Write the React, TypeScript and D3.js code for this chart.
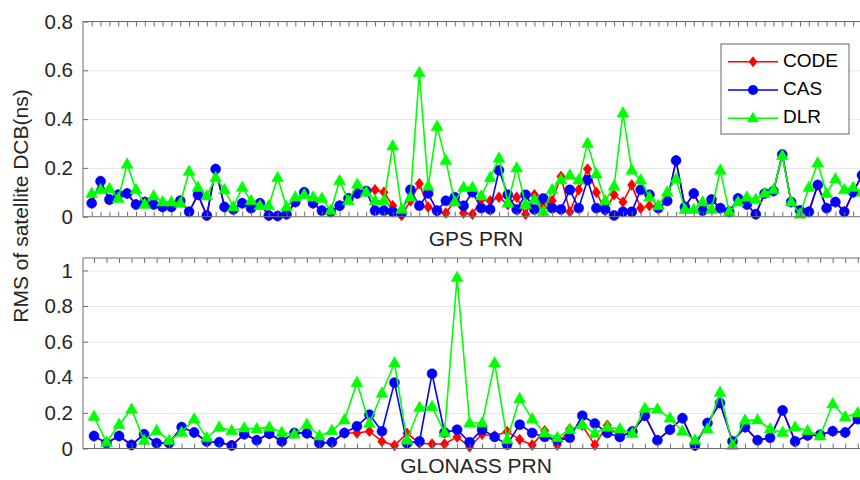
import React, { useRef, useEffect } from 'react';
import * as d3 from 'd3';

// GPS panel (one value per PRN slot)
const gpsCode = [0.055, 0.145, 0.07, 0.09, 0.095, 0.05, 0.06, 0.05, 0.04, 0.04, 0.065, 0.02, 0.09, 0.005, 0.195, 0.04, 0.03, 0.055, 0.035, 0.055, 0.005, 0.003, 0.01, 0.06, 0.1, 0.055, 0.025, 0.02, 0.045, 0.075, 0.095, 0.105, 0.11, 0.1, 0.045, 0.005, 0.065, 0.135, 0.04, 0.02, 0.015, 0.065, 0.015, 0.01, 0.07, 0.065, 0.08, 0.05, 0.08, 0.01, 0.09, 0.04, 0.065, 0.165, 0.02, 0.11, 0.195, 0.1, 0.025, 0.09, 0.06, 0.13, 0.035, 0.045, 0.035, 0.065, 0.23, 0.04, 0.095, 0.025, 0.07, 0.035, 0.02, 0.075, 0.05, 0.01, 0.095, 0.105, 0.255, 0.06, 0.025, 0.02, 0.13, 0.035, 0.06, 0.02, 0.1, 0.17];
const gpsCas = [0.055, 0.145, 0.07, 0.09, 0.095, 0.05, 0.06, 0.05, 0.04, 0.04, 0.065, 0.02, 0.09, 0.005, 0.195, 0.04, 0.03, 0.055, 0.035, 0.055, 0.005, 0.003, 0.01, 0.06, 0.1, 0.055, 0.025, 0.02, 0.045, 0.075, 0.095, 0.105, 0.025, 0.025, 0.02, 0.015, 0.11, 0.045, 0.095, 0.025, 0.065, 0.08, 0.045, 0.1, 0.035, 0.03, 0.19, 0.09, 0.03, 0.09, 0.03, 0.075, 0.035, 0.03, 0.11, 0.035, 0.15, 0.035, 0.03, 0.005, 0.02, 0.02, 0.11, 0.09, 0.035, 0.065, 0.23, 0.04, 0.095, 0.025, 0.07, 0.035, 0.02, 0.075, 0.05, 0.01, 0.095, 0.105, 0.255, 0.06, 0.025, 0.02, 0.13, 0.035, 0.06, 0.02, 0.1, 0.17];
const gpsDlr = [0.095, 0.11, 0.115, 0.075, 0.215, 0.11, 0.05, 0.085, 0.06, 0.06, 0.055, 0.185, 0.12, 0.085, 0.16, 0.11, 0.04, 0.12, 0.065, 0.045, 0.045, 0.16, 0.04, 0.08, 0.09, 0.08, 0.075, 0.025, 0.147, 0.065, 0.133, 0.1, 0.065, 0.065, 0.29, 0.03, 0.08, 0.59, 0.125, 0.37, 0.23, 0.06, 0.12, 0.12, 0.085, 0.16, 0.24, 0.055, 0.2, 0.05, 0.07, 0.02, 0.11, 0.15, 0.17, 0.15, 0.3, 0.175, 0.065, 0.125, 0.425, 0.19, 0.15, 0.08, 0.045, 0.1, 0.155, 0.03, 0.03, 0.06, 0.03, 0.19, 0.02, 0.06, 0.08, 0.07, 0.095, 0.11, 0.25, 0.06, 0.01, 0.12, 0.22, 0.095, 0.155, 0.11, 0.12, 0.1];

// GLONASS panel
const gloCode = [0.07, 0.03, 0.07, 0.02, 0.08, 0.03, 0.03, 0.12, 0.09, 0.04, 0.035, 0.017, 0.08, 0.046, 0.083, 0.04, 0.087, 0.085, 0.03, 0.035, 0.087, 0.087, 0.097, 0.04, 0.017, 0.085, 0.03, 0.025, 0.025, 0.065, 0.01, 0.08, 0.07, 0.095, 0.05, 0.02, 0.1, 0.02, 0.11, 0.13, 0.02, 0.13, 0.065, 0.095, 0.184, 0.046, 0.106, 0.17, 0.017, 0.143, 0.255, 0.04, 0.12, 0.046, 0.06, 0.214, 0.04, 0.073, 0.077, 0.097, 0.09, 0.165];
const gloCas = [0.07, 0.03, 0.07, 0.02, 0.08, 0.03, 0.03, 0.12, 0.09, 0.04, 0.035, 0.017, 0.08, 0.046, 0.083, 0.04, 0.087, 0.085, 0.03, 0.035, 0.087, 0.125, 0.19, 0.097, 0.37, 0.03, 0.04, 0.42, 0.09, 0.106, 0.035, 0.106, 0.065, 0.022, 0.134, 0.087, 0.065, 0.046, 0.06, 0.184, 0.14, 0.087, 0.065, 0.095, 0.184, 0.046, 0.106, 0.17, 0.017, 0.143, 0.255, 0.04, 0.12, 0.046, 0.06, 0.214, 0.04, 0.073, 0.077, 0.097, 0.09, 0.165];
const gloDlr = [0.18, 0.035, 0.135, 0.22, 0.045, 0.1, 0.045, 0.09, 0.165, 0.06, 0.12, 0.1, 0.115, 0.11, 0.12, 0.09, 0.08, 0.135, 0.07, 0.1, 0.16, 0.37, 0.14, 0.31, 0.48, 0.046, 0.23, 0.235, 0.09, 0.96, 0.143, 0.143, 0.48, 0.05, 0.28, 0.165, 0.087, 0.06, 0.106, 0.134, 0.084, 0.12, 0.11, 0.084, 0.225, 0.22, 0.17, 0.097, 0.046, 0.11, 0.315, 0.017, 0.158, 0.16, 0.11, 0.09, 0.12, 0.1, 0.07, 0.25, 0.177, 0.2];

const gpsTicks = [0, 0.2, 0.4, 0.6, 0.8];
const gloTicks = [0, 0.2, 0.4, 0.6, 0.8, 1];
const seriesNames = ['CODE', 'CAS', 'DLR'];
const seriesColors = ['#ff0000', '#0000ff', '#00ff00'];
const markerPaths = [
  'M0,-5.5L4.3,0L0,5.5L-4.3,0Z',
  'M5,0A5,5 0 1,1 -5,0A5,5 0 1,1 5,0Z',
  'M0,-6.5L6,4L-6,4Z',
];

const FONT = '"Liberation Sans", Arial, sans-serif';
const LEFT = 83;
const RIGHT = 870;
const AXIS_GRAY = '#6e6e6e';

function drawPanel(svg, opts) {
  const { series, ticks, yMax, top, bottom, xStart, xStep, label, labelY } = opts;
  const n = series[0].length;
  const x = d3.scaleLinear().domain([0, 1]).range([xStart, xStart + xStep]);
  const y = d3.scaleLinear().domain([0, yMax]).range([bottom, top]);
  const g = svg.append('g');

  // grid
  g.append('g')
    .attr('transform', `translate(${LEFT},0)`)
    .call(d3.axisLeft(y).tickValues(ticks.slice(1)).tickSize(-(RIGHT - LEFT)).tickFormat(() => ''))
    .call(s => s.select('.domain').remove())
    .call(s => s.selectAll('line').attr('stroke', '#e6e6e6').attr('stroke-width', 1));

  const line = d3.line().x((d, i) => x(i)).y(d => y(d));
  series.forEach((vals, k) => {
    g.append('path')
      .datum(vals)
      .attr('d', line)
      .attr('fill', 'none')
      .attr('stroke', seriesColors[k])
      .attr('stroke-width', 1.6);
    g.selectAll(null)
      .data(vals)
      .join('path')
      .attr('d', markerPaths[k])
      .attr('transform', (d, i) => `translate(${x(i)},${y(d)})`)
      .attr('fill', seriesColors[k])
      .attr('stroke', seriesColors[k])
      .attr('stroke-width', 0.5);
  });

  // x ticks, top and bottom, pointing in
  const nTicks = Math.floor((RIGHT - xStart) / xStep) + 1;
  const tickIdx = d3.range(0, Math.max(n, nTicks));
  g.append('g')
    .attr('transform', `translate(0,${bottom})`)
    .call(d3.axisBottom(x).tickValues(tickIdx).tickSize(-5).tickSizeOuter(0).tickFormat(() => ''))
    .call(s => s.select('.domain').remove())
    .call(s => s.selectAll('line').attr('stroke', AXIS_GRAY));
  g.append('g')
    .attr('transform', `translate(0,${top})`)
    .call(d3.axisTop(x).tickValues(tickIdx).tickSize(-5).tickSizeOuter(0).tickFormat(() => ''))
    .call(s => s.select('.domain').remove())
    .call(s => s.selectAll('line').attr('stroke', AXIS_GRAY));

  // y axis
  g.append('g')
    .attr('transform', `translate(${LEFT},0)`)
    .call(d3.axisLeft(y).tickValues(ticks).tickSize(-5).tickSizeOuter(0).tickPadding(10).tickFormat(d => String(d)))
    .call(s => s.select('.domain').remove())
    .call(s => s.selectAll('line').attr('stroke', AXIS_GRAY))
    .call(s => s.selectAll('text').attr('font-size', 20.5).attr('font-family', FONT).attr('fill', '#262626'));

  // box
  g.append('rect')
    .attr('x', LEFT)
    .attr('y', top)
    .attr('width', RIGHT - LEFT)
    .attr('height', bottom - top)
    .attr('fill', 'none')
    .attr('stroke', AXIS_GRAY)
    .attr('stroke-width', 1);

  g.append('text')
    .attr('x', 476)
    .attr('y', labelY)
    .attr('text-anchor', 'middle')
    .attr('dominant-baseline', 'middle')
    .attr('font-size', 21)
    .attr('font-family', FONT)
    .attr('fill', '#262626')
    .text(label);
}

const App = () => {
  const svgRef = useRef(null);

  useEffect(() => {
    const svg = d3.select(svgRef.current);
    svg.selectAll('*').remove();

    drawPanel(svg, {
      series: [gpsCode, gpsCas, gpsDlr],
      ticks: gpsTicks,
      yMax: 0.8,
      top: 21.5,
      bottom: 216.7,
      xStart: 91.7,
      xStep: 8.854,
      label: 'GPS PRN',
      labelY: 240,
    });

    drawPanel(svg, {
      series: [gloCode, gloCas, gloDlr],
      ticks: gloTicks,
      yMax: 1.07,
      top: 258,
      bottom: 448.5,
      xStart: 94,
      xStep: 12.52,
      label: 'GLONASS PRN',
      labelY: 467,
    });

    // y label
    svg.append('text')
      .attr('transform', 'translate(22,206) rotate(-90)')
      .attr('text-anchor', 'middle')
      .attr('dominant-baseline', 'middle')
      .attr('font-size', 21)
      .attr('font-family', FONT)
      .attr('fill', '#262626')
      .text('RMS of satellite DCB(ns)');

    // legend
    const lg = svg.append('g').attr('transform', 'translate(721,44)');
    lg.append('rect')
      .attr('width', 128)
      .attr('height', 90)
      .attr('fill', '#ffffff')
      .attr('stroke', '#666666');
    seriesNames.forEach((name, k) => {
      const ly = 17.7 + k * 28.3;
      lg.append('line')
        .attr('x1', 7).attr('x2', 57)
        .attr('y1', ly).attr('y2', ly)
        .attr('stroke', seriesColors[k])
        .attr('stroke-width', 1.6);
      lg.append('path')
        .attr('d', markerPaths[k])
        .attr('transform', `translate(32,${ly})`)
        .attr('fill', seriesColors[k]);
      lg.append('text')
        .attr('x', 62)
        .attr('y', ly)
        .attr('dominant-baseline', 'middle')
        .attr('font-size', 19)
        .attr('font-family', FONT)
        .attr('fill', '#000000')
        .text(name);
    });
  }, []);

  return (
    <svg
      ref={svgRef}
      width={860}
      height={480}
      style={{ position: 'absolute', left: 0, top: 0, background: '#ffffff' }}
    />
  );
};

export default App;
